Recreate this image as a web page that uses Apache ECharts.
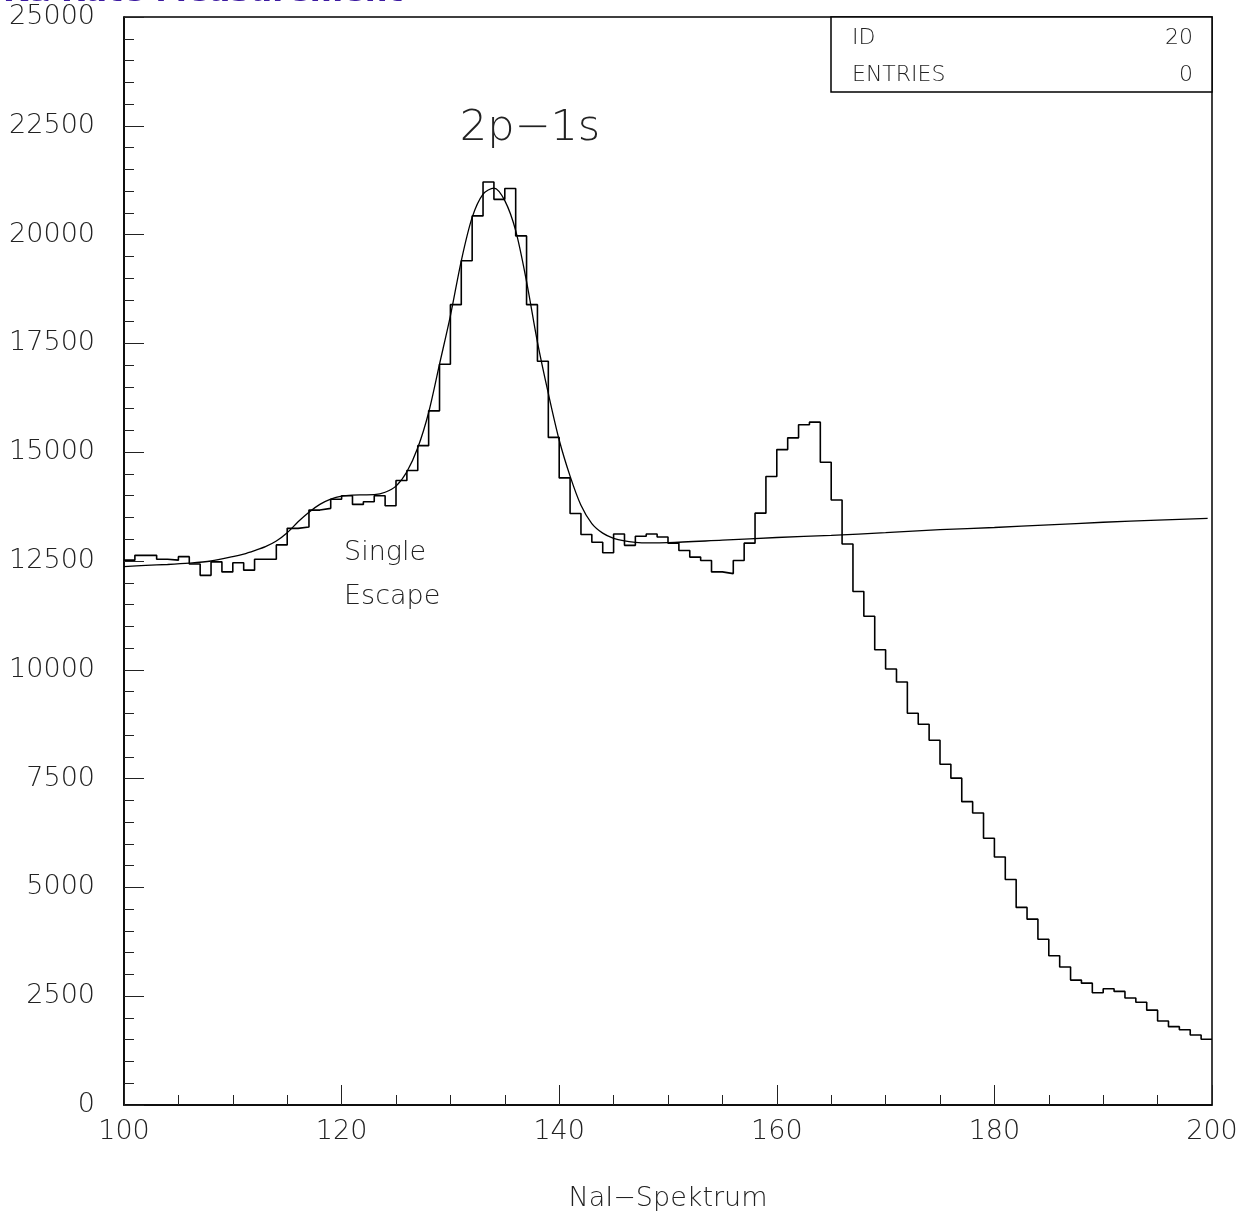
<!DOCTYPE html>
<html>
<head>
<meta charset="utf-8">
<script src="https://cdn.jsdelivr.net/npm/echarts@6/dist/echarts.min.js"></script>
<style>
html,body{margin:0;padding:0;background:#fff;}
#chart{width:1250px;height:1213px;}
</style>
</head>
<body>
<div id="chart"></div>
<script>
// Histogram: bin lower edges 100..199 (width 1)
const binStart = 100;
const binWidth = 1;
const histValues = [
  12520, 12630, 12630, 12540, 12520, 12600, 12430, 12170, 12480, 12250,
  12460, 12290, 12540, 12540, 12870, 13250, 13280, 13670, 13710, 13920,
  14000, 13800, 13860, 14000, 13770, 14350, 14580, 15150, 15950, 17020,
  18390, 19400, 20430, 21210, 20810, 21060, 19970, 18390, 17090, 15340,
  14410, 13590, 13110, 12930, 12690, 13120, 12860, 13070, 13120, 13050,
  12910, 12740, 12590, 12510, 12250, 12210, 12510, 12910, 13600, 14440,
  15060, 15330, 15630, 15690, 14770, 13900, 12890, 11800, 11230, 10460,
  10020, 9720, 9000, 8750, 8380, 7830, 7510, 6970, 6710, 6130,
  5700, 5180, 4540, 4270, 3810, 3430, 3170, 2870, 2800, 2580,
  2670, 2610, 2460, 2360, 2180, 1930, 1800, 1730, 1610, 1510
];
// Fitted curve
const fitX = [100, 102, 104, 106, 108, 110, 111, 112, 113, 114, 115, 116, 117, 118, 119, 120, 121, 122, 123, 124, 125, 126, 127, 128, 129, 130, 131, 132, 133, 134, 135, 136, 137, 138, 139, 140, 141, 142, 143, 144, 145, 146, 147, 148, 150, 155, 160, 165, 170, 175, 180, 185, 190, 195, 199.6];
const fitY = [12370, 12400, 12420, 12450, 12500, 12600, 12660, 12740, 12830, 12960, 13150, 13400, 13620, 13800, 13920, 13990, 14015, 14020, 14025, 14080, 14220, 14550, 15100, 15913, 17023, 18133, 19398, 20395, 20931, 21070, 20780, 20090, 18920, 17530, 16350, 15280, 14450, 13780, 13360, 13140, 13020, 12960, 12930, 12915, 12920, 12980, 13040, 13090, 13150, 13220, 13270, 13330, 13390, 13440, 13480];
const xTicks = [100, 120, 140, 160, 180, 200];
const yTicks = [0, 2500, 5000, 7500, 10000, 12500, 15000, 17500, 20000, 22500, 25000];
const titleText = 'Kα Rate Measurement';
const xName = 'NaI−Spektrum';
const statLabels = ['ID', 'ENTRIES'];
const statValues = ['20', '0'];
const peakLabel = '2p−1s';
const escapeLabel = ['Single', 'Escape'];

const histPoints = histValues.map((v, i) => [binStart + i * binWidth, v]);
histPoints.push([binStart + histValues.length * binWidth, histValues[histValues.length - 1]]);
const fitPoints = fitX.map((x, i) => [x, fitY[i]]);

const FONT = 'DejaVu Sans';
const chart = echarts.init(document.getElementById('chart'));
chart.setOption({
  animation: false,
  backgroundColor: '#fff',
  title: {
    text: titleText, left: -2, top: -28,
    textStyle: {color: '#3c1aa0', fontSize: 32, fontWeight: 'bold', fontFamily: FONT}
  },
  grid: {left: 124, right: 38, top: 17, bottom: 108, containLabel: false, outerBoundsMode: 'none', show: true, borderColor: '#000', borderWidth: 1.5, backgroundColor: 'transparent'},
  xAxis: {
    type: 'value', min: xTicks[0], max: xTicks[xTicks.length - 1], interval: 20,
    name: xName, nameLocation: 'middle', nameGap: 80,
    nameTextStyle: {color: '#222', fontSize: 27, fontFamily: FONT, fontWeight: 200},
    axisLine: {show: true, lineStyle: {color: '#000', width: 1.5}},
    axisTick: {show: true, inside: true, length: 20, lineStyle: {color: '#222', width: 1}},
    minorTick: {show: true, splitNumber: 4, length: 10, lineStyle: {color: '#222', width: 1}},
    splitLine: {show: false},
    axisLabel: {color: '#222', fontSize: 27, fontFamily: FONT, fontWeight: 200, margin: 13, formatter: v => String(v)}
  },
  yAxis: {
    type: 'value', min: yTicks[0], max: yTicks[yTicks.length - 1], interval: 2500,
    axisLine: {show: true, lineStyle: {color: '#000', width: 1.5}},
    axisTick: {show: true, inside: true, length: 20, lineStyle: {color: '#222', width: 1}},
    minorTick: {show: true, splitNumber: 5, length: 10, lineStyle: {color: '#222', width: 1}},
    splitLine: {show: false},
    axisLabel: {color: '#222', fontSize: 27, fontFamily: FONT, fontWeight: 200, margin: 29, verticalAlign: 'middle', formatter: v => String(v)}
  },
  series: [
    {
      type: 'line', data: histPoints, step: 'end', symbol: 'none',
      lineStyle: {color: '#000', width: 1.6}, z: 3
    },
    {
      type: 'line', data: fitPoints, smooth: 0.3, symbol: 'none',
      lineStyle: {color: '#000', width: 1.3}, z: 4
    }
  ],
  graphic: [
    {type: 'rect', shape: {x: 831, y: 17, width: 381, height: 75}, style: {fill: '#fff', stroke: '#000', lineWidth: 1.5}, z: 10},
    {type: 'text', x: 852, y: 38, style: {text: statLabels[0], fill: '#222', font: '200 22px "DejaVu Sans"', textVerticalAlign: 'middle'}, z: 11},
    {type: 'text', x: 852, y: 75, style: {text: statLabels[1], fill: '#222', font: '200 22px "DejaVu Sans"', textVerticalAlign: 'middle'}, z: 11},
    {type: 'text', x: 1193, y: 38, style: {text: statValues[0], fill: '#222', font: '200 22px "DejaVu Sans"', textAlign: 'right', textVerticalAlign: 'middle'}, z: 11},
    {type: 'text', x: 1193, y: 75, style: {text: statValues[1], fill: '#222', font: '200 22px "DejaVu Sans"', textAlign: 'right', textVerticalAlign: 'middle'}, z: 11},
    {type: 'text', x: 530, y: 129, style: {text: peakLabel, fill: '#222', font: '200 43px "DejaVu Sans"', textAlign: 'center', textVerticalAlign: 'middle'}, z: 11},
    {type: 'text', x: 344, y: 553, style: {text: escapeLabel[0], fill: '#222', font: '200 27px "DejaVu Sans"', textVerticalAlign: 'middle'}, z: 11},
    {type: 'text', x: 344, y: 597, style: {text: escapeLabel[1], fill: '#222', font: '200 27px "DejaVu Sans"', textVerticalAlign: 'middle'}, z: 11}
  ]
});
</script>
</body>
</html>
